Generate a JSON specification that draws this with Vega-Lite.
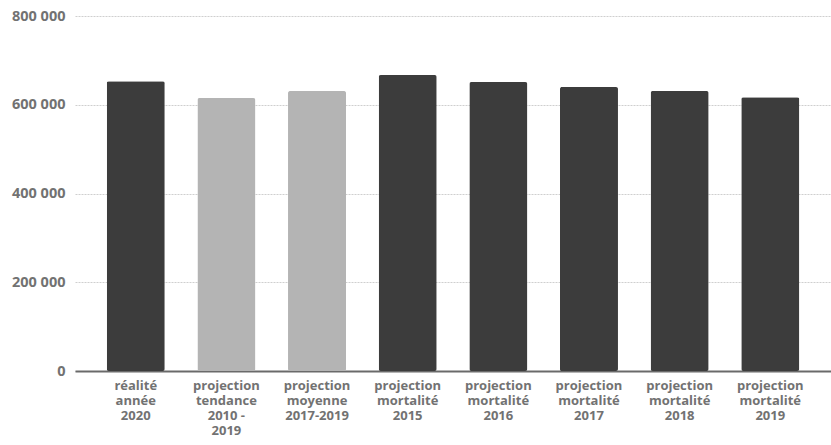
{
  "$schema": "https://vega.github.io/schema/vega-lite/v6.json",
  "autosize": {"type": "none"},
  "padding": {"left": 75, "top": 16, "right": 0, "bottom": 74},
  "width": 756,
  "height": 355,
  "background": "white",
  "config": {
    "locale": {"number": {"decimal": ",", "thousands": " ", "grouping": [3], "currency": ["", " €"]}},
    "view": {"stroke": null}
  },
  "data": {
    "values": [
      {"categorie": "réalité|année|2020", "deces": 653000, "type": "réel"},
      {"categorie": "projection|tendance|2010 -|2019", "deces": 615000, "type": "tendance"},
      {"categorie": "projection|moyenne|2017-2019", "deces": 631000, "type": "tendance"},
      {"categorie": "projection|mortalité|2015", "deces": 667000, "type": "réel"},
      {"categorie": "projection|mortalité|2016", "deces": 651000, "type": "réel"},
      {"categorie": "projection|mortalité|2017", "deces": 640000, "type": "réel"},
      {"categorie": "projection|mortalité|2018", "deces": 631000, "type": "réel"},
      {"categorie": "projection|mortalité|2019", "deces": 617000, "type": "réel"}
    ]
  },
  "mark": {"type": "bar", "cornerRadius": 2},
  "encoding": {
    "x": {
      "field": "categorie",
      "type": "nominal",
      "sort": null,
      "scale": {"paddingInner": 0.36, "paddingOuter": 0.35},
      "axis": {
        "title": null,
        "labelAngle": 0,
        "labelExpr": "split(datum.value, '|')",
        "labelFont": "Open Sans",
        "labelFontWeight": "bold",
        "labelFontSize": 13,
        "labelLineHeight": 15,
        "labelColor": "#727272",
        "labelBaseline": "top",
        "labelPadding": 8,
        "labelOverlap": false,
        "ticks": false,
        "domainColor": "#6a6a6a",
        "domainWidth": 2,
        "labelLimit": 0
      }
    },
    "y": {
      "field": "deces",
      "type": "quantitative",
      "scale": {"domain": [0, 800000]},
      "axis": {
        "title": null,
        "values": [0, 200000, 400000, 600000, 800000],
        "format": ",d",
        "labelFont": "Open Sans",
        "labelFontWeight": "bold",
        "labelFontSize": 14.5,
        "labelColor": "#727272",
        "labelPadding": 10,
        "ticks": false,
        "domain": false,
        "gridColor": "#cfcfcf",
        "gridDash": [2, 1],
        "gridWidth": 1
      }
    },
    "color": {
      "field": "type",
      "type": "nominal",
      "scale": {"domain": ["réel", "tendance"], "range": ["#3c3c3c", "#b4b4b4"]},
      "legend": null
    }
  }
}
